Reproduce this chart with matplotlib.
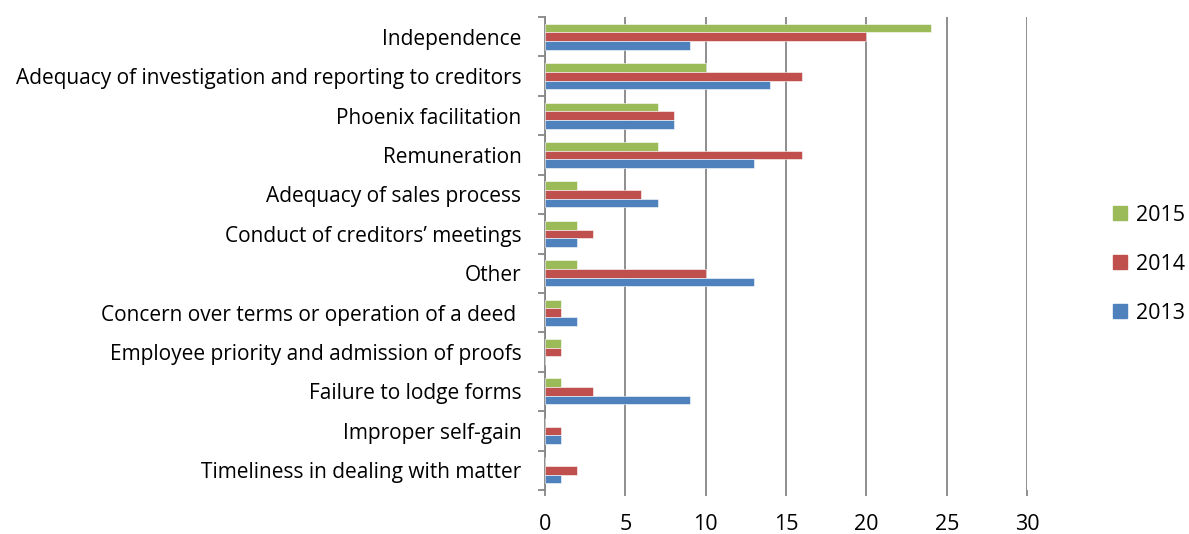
import numpy as np
import matplotlib

matplotlib.use("Agg")
import matplotlib.pyplot as plt
from matplotlib.patches import Patch

categories = [
    "Independence",
    "Adequacy of investigation and reporting to creditors",
    "Phoenix facilitation",
    "Remuneration",
    "Adequacy of sales process",
    "Conduct of creditors\u2019 meetings",
    "Other",
    "Concern over terms or operation of a deed ",
    "Employee priority and admission of proofs",
    "Failure to lodge forms",
    "Improper self-gain",
    "Timeliness in dealing with matter",
]
values_2015 = [24, 10, 7, 7, 2, 2, 2, 1, 1, 1, 0, 0]
values_2014 = [20, 16, 8, 16, 6, 3, 10, 1, 1, 3, 1, 2]
values_2013 = [9, 14, 8, 13, 7, 2, 13, 2, 0, 9, 1, 1]

series = [
    ("2015", values_2015, "#9BBB59"),
    ("2014", values_2014, "#C0504D"),
    ("2013", values_2013, "#4F81BD"),
]

plt.rcParams["font.family"] = ["Open Sans", "DejaVu Sans"]

fig = plt.figure(figsize=(11.89, 5.34), dpi=100)
ax = fig.add_axes([0.4584, 0.0824, 0.4054, 0.8856])

y = np.arange(len(categories))
h = 0.22
for i, (name, vals, color) in enumerate(series):
    ax.barh(y + (i - 1) * h, vals, height=h, color=color,
            edgecolor="white", linewidth=0.4, zorder=3)

ax.set_xlim(0, 30)
ax.set_ylim(len(categories) - 0.5, -0.5)
ax.set_xticks(np.arange(0, 31, 5))
ax.set_yticks(y)
ax.set_yticklabels(categories, fontsize=15)
ax.set_yticks(np.arange(-0.5, len(categories), 1), minor=True)

ax.grid(axis="x", color="#868686", linewidth=1.3, zorder=0)
ax.tick_params(axis="y", which="major", length=0, pad=17)
ax.tick_params(axis="y", which="minor", length=5, width=1.3, color="#868686")
ax.tick_params(axis="x", length=4, width=1.3, color="#868686", labelsize=15.5, pad=13)

for s in ["top", "right", "bottom"]:
    ax.spines[s].set_visible(False)
ax.spines["left"].set_color("#868686")
ax.spines["left"].set_linewidth(1.3)

handles = [Patch(color=c, label=n) for n, _, c in series]
fig.legend(handles=handles, loc="center left", bbox_to_anchor=(0.936, 0.505),
           frameon=False, fontsize=15.5, handlelength=0.65, handleheight=0.65,
           handletextpad=0.4, labelspacing=1.3, borderpad=0, borderaxespad=0)

fig.savefig("out.png", dpi=100)
